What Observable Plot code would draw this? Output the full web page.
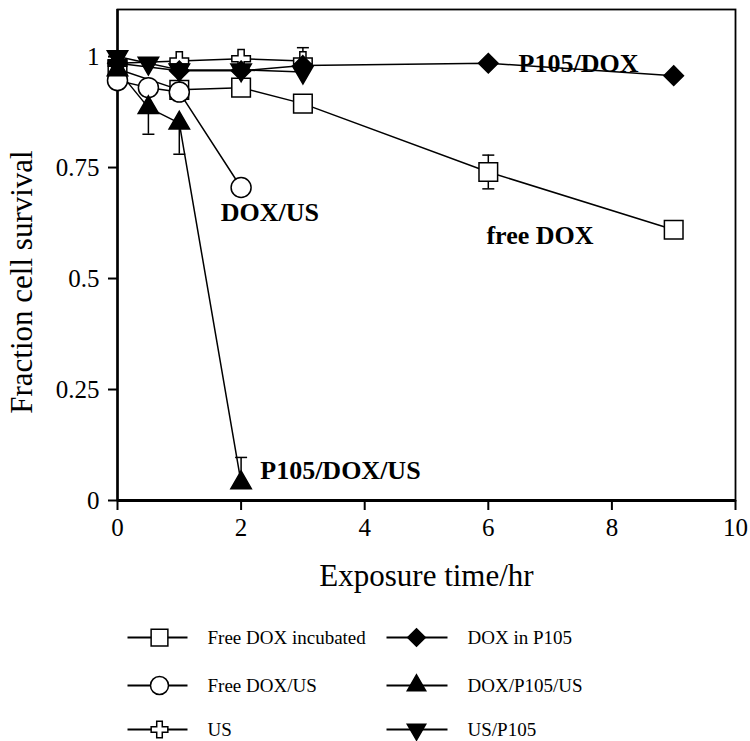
<!DOCTYPE html>
<html>
<head>
<meta charset="utf-8">
<script src="https://cdn.jsdelivr.net/npm/d3@7"></script>
<script src="https://cdn.jsdelivr.net/npm/@observablehq/plot@0.6"></script>
<style>
  html, body { margin: 0; padding: 0; background: white; }
  #chart svg { display: block; }
</style>
</head>
<body>
<div id="chart"></div>
<script>
// ---- Data ----
const seriesNames = ["Free DOX incubated", "Free DOX/US", "US", "DOX in P105", "DOX/P105/US", "US/P105"];

const timeFreeDOX   = [0, 1, 2, 3, 6, 9];
const valFreeDOX    = [0.972, 0.925, 0.93, 0.894, 0.74, 0.61];
const errUpFreeDOX  = [0, 0, 0, 0, 0.038, 0];
const errDnFreeDOX  = [0, 0, 0, 0, 0.038, 0];

const timeFreeDOXUS  = [0, 0.5, 1, 2];
const valFreeDOXUS   = [0.946, 0.93, 0.92, 0.705];
const errUpFreeDOXUS = [0, 0, 0, 0];
const errDnFreeDOXUS = [0, 0, 0, 0];

const timeUS  = [0, 1, 2, 3];
const valUS   = [0.985, 0.99, 0.995, 0.99];
const errUpUS = [0, 0, 0, 0];
const errDnUS = [0, 0, 0, 0];

const timeDOXP105  = [0, 1, 2, 3, 6, 9];
const valDOXP105   = [0.985, 0.968, 0.968, 0.98, 0.985, 0.957];
const errUpDOXP105 = [0, 0, 0, 0, 0, 0];
const errDnDOXP105 = [0, 0, 0, 0, 0, 0];

const timeDOXP105US  = [0, 0.5, 1, 2];
const valDOXP105US   = [0.97, 0.885, 0.85, 0.04];
const errUpDOXP105US = [0, 0, 0, 0.057];
const errDnDOXP105US = [0.04, 0.06, 0.07, 0];

const timeUSP105  = [0, 0.5, 1, 2, 3];
const valUSP105   = [1.0, 0.985, 0.97, 0.97, 0.965];
const errUpUSP105 = [0, 0, 0, 0, 0.055];
const errDnUSP105 = [0, 0, 0, 0, 0];

const xTicks = [0, 2, 4, 6, 8, 10];
const yTicks = [0, 0.25, 0.5, 0.75, 1];

const annotationText = ["P105/DOX", "DOX/US", "free DOX", "P105/DOX/US"];
const annotationX    = [6.49, 1.67, 5.97, 2.31];
const annotationY    = [0.984, 0.648, 0.596, 0.067];

// ---- Styles per series ----
const styles = [
  {symbol: "square",   fill: "white", r: 10.5, rotate: 0},
  {symbol: "circle",   fill: "white", r: 10,   rotate: 0},
  {symbol: "cross",    fill: "white", r: 7.8,  rotate: 0},
  {symbol: "diamond2", fill: "black", r: 8.8,  rotate: 0},
  {symbol: "triangle", fill: "black", r: 7.6,  rotate: 0},
  {symbol: "triangle", fill: "black", r: 7.6,  rotate: 180}
];

const times  = [timeFreeDOX, timeFreeDOXUS, timeUS, timeDOXP105, timeDOXP105US, timeUSP105];
const vals   = [valFreeDOX, valFreeDOXUS, valUS, valDOXP105, valDOXP105US, valUSP105];
const errUps = [errUpFreeDOX, errUpFreeDOXUS, errUpUS, errUpDOXP105, errUpDOXP105US, errUpUSP105];
const errDns = [errDnFreeDOX, errDnFreeDOXUS, errDnUS, errDnDOXP105, errDnDOXP105US, errDnUSP105];

const rows = [];
seriesNames.forEach((name, i) => {
  times[i].forEach((t, j) => rows.push({series: name, time: t, value: vals[i][j], up: errUps[i][j], dn: errDns[i][j]}));
});
const upRows = rows.filter(d => d.up > 0);
const dnRows = rows.filter(d => d.dn > 0);
const annotations = annotationText.map((t, i) => ({text: t, x: annotationX[i], y: annotationY[i]}));

// Error-bar cap symbol (horizontal stroke)
const capSymbol = {
  draw(context, size) {
    const w = Math.sqrt(size / Math.PI);
    context.moveTo(-w, 0);
    context.lineTo(w, 0);
  }
};

const font = "'Liberation Serif', 'Times New Roman', serif";

const markerMarks = seriesNames.map((name, i) =>
  Plot.dot(rows.filter(d => d.series === name), {
    x: "time", y: "value",
    symbol: styles[i].symbol, r: styles[i].r, rotate: styles[i].rotate,
    fill: styles[i].fill, stroke: "black", strokeWidth: 1.5
  })
);

const main = Plot.plot({
  width: 750,
  height: 600,
  marginLeft: 117,
  marginRight: 15,
  marginTop: 9,
  marginBottom: 100,
  style: {fontFamily: font, fontSize: "25px", color: "black", background: "white", overflow: "visible"},
  x: {domain: [0, 10]},
  y: {domain: [0, 1.106]},
  marks: [
    Plot.frame({stroke: "black", strokeWidth: 1.8}),
    Plot.axisX({ticks: xTicks, tickSize: 10, tickPadding: 8, label: null, fontSize: 25, strokeWidth: 2}),
    Plot.axisY({ticks: yTicks, tickSize: 9, tickPadding: 9, label: null, fontSize: 25, strokeWidth: 2, tickFormat: d => String(d)}),
    Plot.ruleX([0], {strokeWidth: 2.5}),
    Plot.ruleY([0], {strokeWidth: 3}),
    Plot.line(rows, {x: "time", y: "value", z: "series", stroke: "black", strokeWidth: 1.5}),
    Plot.ruleX(upRows, {x: "time", y1: "value", y2: d => d.value + d.up, stroke: "black", strokeWidth: 1.5}),
    Plot.ruleX(dnRows, {x: "time", y1: "value", y2: d => d.value - d.dn, stroke: "black", strokeWidth: 1.5}),
    Plot.dot(upRows, {x: "time", y: d => d.value + d.up, symbol: capSymbol, r: 6, fill: "none", stroke: "black", strokeWidth: 1.5}),
    Plot.dot(dnRows, {x: "time", y: d => d.value - d.dn, symbol: capSymbol, r: 6, fill: "none", stroke: "black", strokeWidth: 1.5}),
    ...markerMarks,
    Plot.text(annotations, {x: "x", y: "y", text: "text", textAnchor: "start", lineAnchor: "middle", fontWeight: "bold", fontSize: 26, fill: "black"}),
    Plot.text(["Exposure time/hr"], {frameAnchor: "bottom", textAnchor: "middle", dy: 76, lineAnchor: "middle", fontSize: 31, fill: "black", text: d => d}),
    Plot.text(["Fraction cell survival"], {frameAnchor: "left", textAnchor: "middle", dx: -95, dy: 27, rotate: -90, lineAnchor: "middle", fontSize: 31, fill: "black", text: d => d})
  ]
});

// ---- Legend (second Plot) ----
const legendItems = seriesNames.map((name, i) => ({name, i, col: Math.floor(i / 3), row: i % 3}));
const colLineStart = [127, 386];
const colLineEnd   = [187, 447];
const colMarker    = [159, 416];
const colText      = [207, 467];
const rowY         = [37, 85, 129];

const legend = Plot.plot({
  width: 750,
  height: 141,
  margin: 0,
  style: {fontFamily: font, fontSize: "19px", color: "black", background: "white"},
  x: {domain: [0, 750], range: [0, 750], axis: null},
  y: {domain: [0, 141], range: [0, 141], axis: null},
  marks: [
    Plot.link(legendItems, {x1: d => colLineStart[d.col], x2: d => colLineEnd[d.col], y1: d => rowY[d.row], y2: d => rowY[d.row], stroke: "black", strokeWidth: 2}),
    ...legendItems.map(d => Plot.dot([d], {
      x: e => colMarker[e.col], y: e => rowY[e.row],
      symbol: styles[d.i].symbol, r: styles[d.i].r * 0.9, rotate: styles[d.i].rotate,
      fill: styles[d.i].fill, stroke: "black", strokeWidth: 1.5
    })),
    Plot.text(legendItems, {x: d => colText[d.col], y: d => rowY[d.row], text: "name", textAnchor: "start", lineAnchor: "middle", fontSize: 19, fill: "black"})
  ]
});

const container = document.getElementById("chart");
container.appendChild(main);
container.appendChild(legend);
</script>
</body>
</html>
